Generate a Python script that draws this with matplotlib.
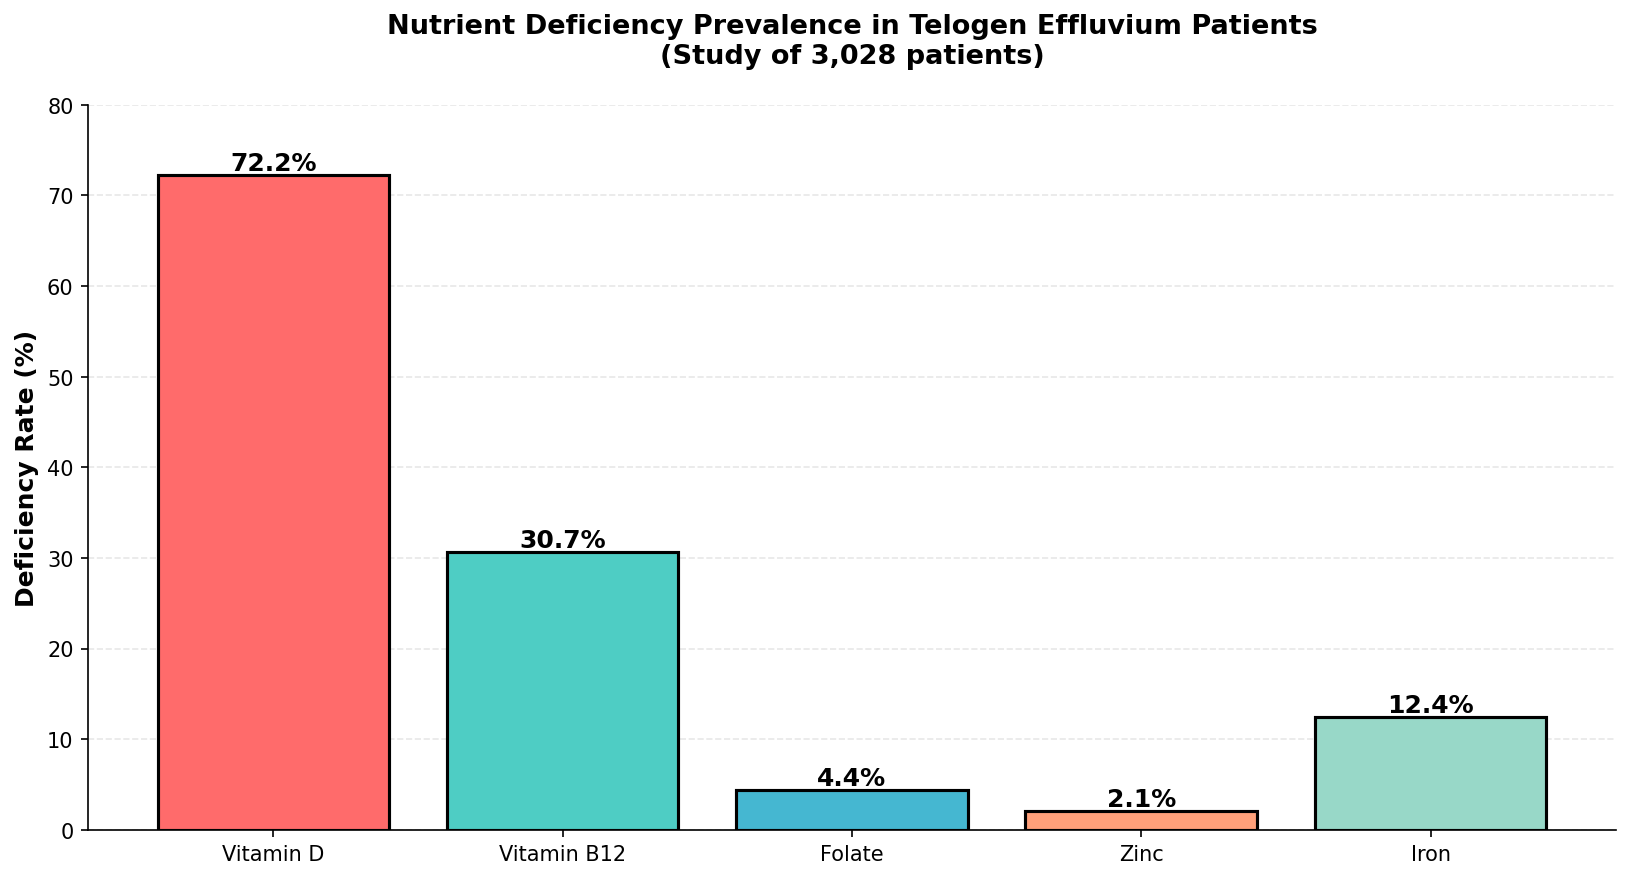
import matplotlib
matplotlib.use('Agg')
import matplotlib.pyplot as plt

nutrients = ['Vitamin D', 'Vitamin B12', 'Folate', 'Zinc', 'Iron']
rates = [72.2, 30.7, 4.4, 2.1, 12.4]
colors = ['#FF6B6B', '#4ECDC4', '#45B7D1', '#FFA07A', '#98D8C8']

fig, ax = plt.subplots(figsize=(10.88, 5.873), dpi=150)

bars = ax.bar(nutrients, rates, width=0.8, color=colors,
              edgecolor='black', linewidth=1.5)

# etiquettes de valeur au-dessus des barres
for bar, val in zip(bars, rates):
    ax.text(bar.get_x() + bar.get_width() / 2, bar.get_height(),
            f'{val}%', ha='center', va='bottom',
            fontsize=12, fontweight='bold')

ax.set_title('Nutrient Deficiency Prevalence in Telogen Effluvium Patients\n(Study of 3,028 patients)',
             fontsize=13, fontweight='bold', pad=20)
ax.set_ylabel('Deficiency Rate (%)', fontsize=12, fontweight='bold')
ax.set_ylim(0, 80)
ax.tick_params(axis='both', labelsize=10)
ax.yaxis.grid(True, linestyle='--', alpha=0.3)
ax.set_axisbelow(True)
ax.spines['top'].set_visible(False)
ax.spines['right'].set_visible(False)

plt.subplots_adjust(left=0.054, right=0.99, top=0.88, bottom=0.057)
fig.savefig('out.png', dpi=150)
plt.close()
